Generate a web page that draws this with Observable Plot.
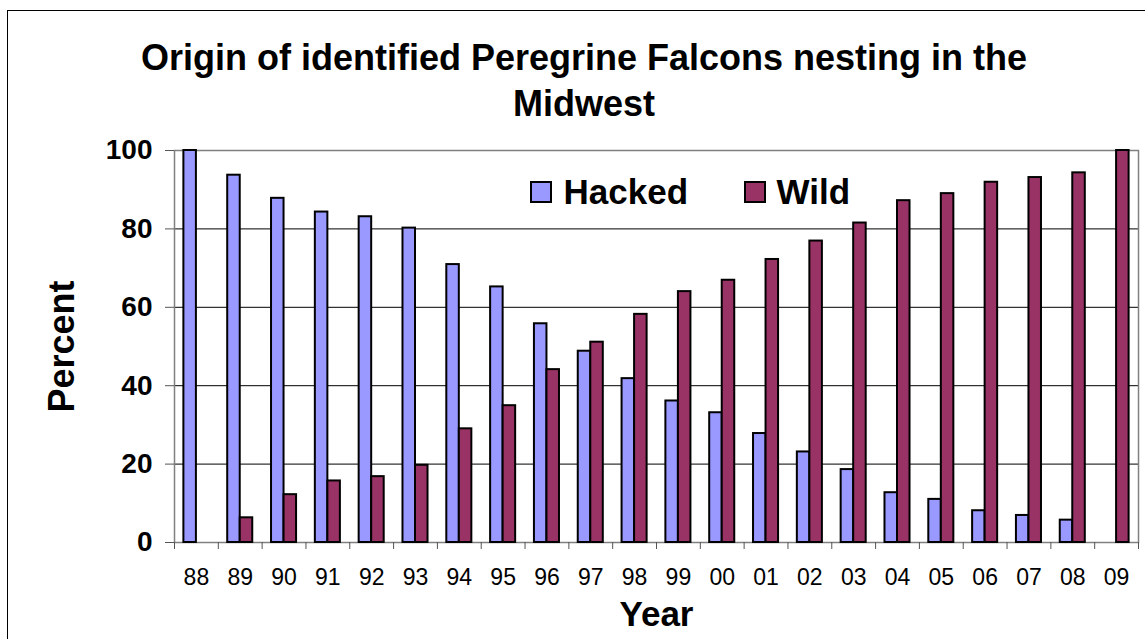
<!DOCTYPE html>
<html>
<head>
<meta charset="utf-8">
<script src="https://cdn.jsdelivr.net/npm/d3@7"></script>
<script src="https://cdn.jsdelivr.net/npm/@observablehq/plot@0.6"></script>
<style>
  html, body { margin: 0; padding: 0; background: #fff; overflow: hidden; }
  body { width: 1145px; height: 639px; position: relative; font-family: "Liberation Sans", Arial, sans-serif; }
  #frame { position: absolute; left: 7px; top: 10px; width: 1200px; height: 700px; border-left: 1px solid #000; border-top: 1px solid #000; }
  #title { position: absolute; left: 7px; width: 1154px; top: 34.5px; text-align: center; font-weight: bold; font-size: 36px; line-height: 46px; color: #000; }
  #chart { position: absolute; left: 0; top: 130px; }
  .sw { position: absolute; box-sizing: border-box; width: 22px; height: 22px; border: 2px solid #000; }
  .lt { position: absolute; font-weight: bold; font-size: 35px; line-height: 35px; color: #000; white-space: nowrap; }
</style>
</head>
<body>
<div id="frame"></div>
<div id="title">Origin of identified Peregrine Falcons nesting in the<br>Midwest</div>
<div id="chart"></div>
<div class="sw" style="left:530px; top:181px; background:#9999FF;"></div>
<div class="lt" style="left:563.5px; top:173.5px;">Hacked</div>
<div class="sw" style="left:744px; top:181px; background:#993366;"></div>
<div class="lt" style="left:776.5px; top:173.5px;">Wild</div>
<script>
const years  = ["88","89","90","91","92","93","94","95","96","97","98","99","00","01","02","03","04","05","06","07","08","09"];
const hacked = [100, 93.7, 87.8, 84.3, 83.1, 80.2, 70.9, 65.2, 55.8, 48.8, 41.8, 36.1, 33.1, 27.8, 23.1, 18.6, 12.7, 11.0, 8.1, 6.9, 5.7, 0];
const wild   = [0, 6.3, 12.2, 15.7, 16.8, 19.7, 29.0, 34.9, 44.1, 51.1, 58.2, 64.0, 66.9, 72.2, 76.9, 81.5, 87.2, 89.0, 91.9, 93.1, 94.3, 100];
const yTicks = [0, 20, 40, 60, 80, 100];
const gridTicks = [20, 40, 60, 80];
const seriesNames = ["Hacked", "Wild"];
const seriesColors = ["#9999FF", "#993366"];

// Excel-style clustered columns: gap width 150% => each bar = 1/3.5 of band
const gap = 1.5 / 3.5 / 2, barW = 1 / 3.5;
const rows = [];
years.forEach((yr, i) => {
  rows.push({i, series: "Hacked", value: hacked[i], x1: i + gap, x2: i + gap + barW});
  rows.push({i, series: "Wild", value: wild[i], x1: i + gap + barW, x2: i + gap + 2 * barW});
});

const chart = Plot.plot({
  width: 1145,
  height: 509,
  marginTop: 20,
  marginBottom: 97,
  marginLeft: 174,
  marginRight: 7,
  style: {fontFamily: "'Liberation Sans', Arial, sans-serif", color: "#000", background: "transparent"},
  x: {type: "linear", domain: [0, years.length], label: null},
  y: {domain: [0, 100], label: null},
  color: {domain: seriesNames, range: seriesColors},
  marks: [
    Plot.gridY(gridTicks, {stroke: "#000", strokeOpacity: 1}),
    Plot.frame({stroke: "#808080", strokeWidth: 1.5}),
    Plot.rectY(rows, {x1: "x1", x2: "x2", y: "value", fill: "series", stroke: "#000", strokeWidth: 2}),
    Plot.axisY({ticks: yTicks, tickSize: 9, tickPadding: 13, fontSize: 28, fontWeight: "bold", stroke: "#555", tickFormat: d => String(d)}),
    Plot.axisX({ticks: d3.range(0, years.length + 1), tickSize: 7, tickFormat: () => "", stroke: "#555"}),
    Plot.axisX({ticks: d3.range(years.length).map(i => i + 0.5), tickSize: 0, tickPadding: 26, fontSize: 23, tickFormat: d => years[Math.floor(d)]}),
    Plot.text(["Percent"], {frameAnchor: "left", dx: -112, rotate: -90, textAnchor: "middle", lineAnchor: "middle", fontSize: 36, fontWeight: "bold", fill: "#000"}),
    Plot.text(["Year"], {frameAnchor: "bottom", dy: 72, textAnchor: "middle", lineAnchor: "middle", fontSize: 35, fontWeight: "bold", fill: "#000"})
  ]
});
document.getElementById("chart").appendChild(chart);
</script>
</body>
</html>
